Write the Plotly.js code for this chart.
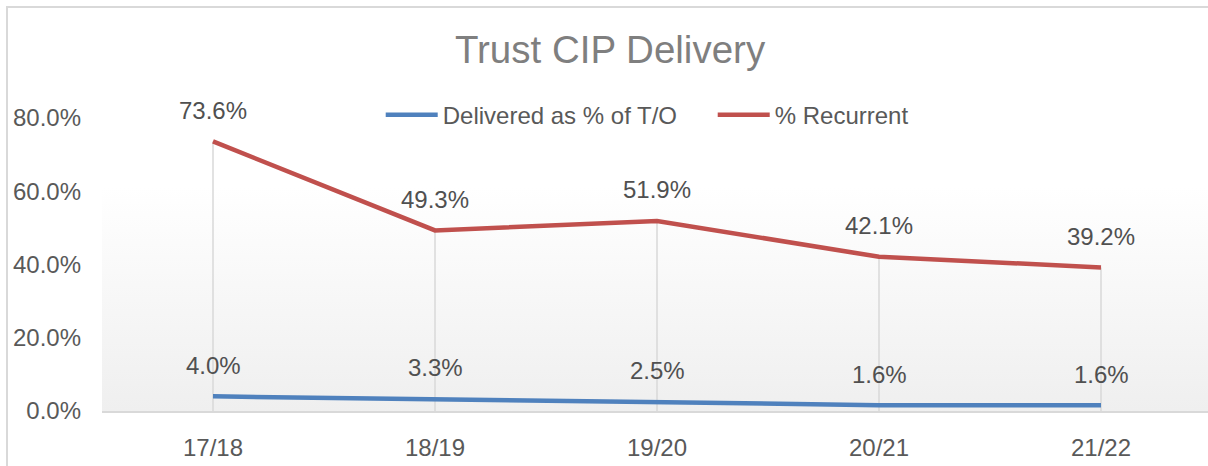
<!DOCTYPE html>
<html>
<head>
<meta charset="utf-8">
<script src="https://cdn.plot.ly/plotly-3.0.1.min.js"></script>
<style>
  html, body { margin: 0; padding: 0; background: #ffffff; overflow: hidden; }
  #frame { position: absolute; left: 6px; top: 6px; width: 1400px; height: 700px;
           border-left: 2px solid #d9d9d9; border-top: 2px solid #d9d9d9; box-sizing: border-box; }
  #chart { position: absolute; left: 0; top: 0; width: 1208px; height: 466px; }
</style>
</head>
<body>
<div id="frame"></div>
<div id="chart"></div>
<script>
// ---- data ----
const categories = ['17/18', '18/19', '19/20', '20/21', '21/22'];
const deliveredPct = [4.0, 3.3, 2.5, 1.6, 1.6];      // Delivered as % of T/O
const recurrentPct = [73.6, 49.3, 51.9, 42.1, 39.2]; // % Recurrent
const seriesNames = ['Delivered as % of T/O', '% Recurrent'];
const yTicks = [0, 20, 40, 60, 80];
const chartTitle = 'Trust CIP Delivery';

// ---- styles ----
const BLUE = '#4f81bd';
const RED = '#c0504d';
const FONT = 'Liberation Sans, Arial, sans-serif';

// drop lines from each category's highest point down to the axis
const dropX = [], dropY = [];
categories.forEach((c, i) => {
  dropX.push(c, c, null);
  dropY.push(0, Math.max(deliveredPct[i], recurrentPct[i]), null);
});

const traces = [
  { x: dropX, y: dropY, mode: 'lines', line: { color: '#d9d9d9', width: 1.5 },
    hoverinfo: 'skip', showlegend: false },
  { x: categories, y: deliveredPct, name: seriesNames[0], mode: 'lines',
    line: { color: BLUE, width: 4.5 } },
  { x: categories, y: recurrentPct, name: seriesNames[1], mode: 'lines',
    line: { color: RED, width: 4.5 } }
];

const annotations = [];
[deliveredPct, recurrentPct].forEach(series => {
  series.forEach((v, i) => {
    annotations.push({ x: categories[i], y: v, text: v.toFixed(1) + '%', showarrow: false,
      xanchor: 'center', yanchor: 'middle', yshift: 31,
      font: { family: FONT, size: 24, color: '#505050' } });
  });
});

const svg = '<svg xmlns="http://www.w3.org/2000/svg" width="100" height="100" preserveAspectRatio="none">' +
  '<defs><linearGradient id="g" x1="0" y1="0" x2="0" y2="1">' +
  '<stop offset="0" stop-color="#ffffff"/><stop offset="0.28" stop-color="#ffffff"/>' +
  '<stop offset="1" stop-color="#efefef"/></linearGradient></defs>' +
  '<rect width="100" height="100" fill="url(#g)"/></svg>';

const layout = {
  width: 1208, height: 466,
  margin: { l: 102, r: 0, t: 118, b: 54.5 },
  paper_bgcolor: 'rgba(0,0,0,0)',
  plot_bgcolor: 'rgba(0,0,0,0)',
  title: { text: chartTitle, x: 0.505, xref: 'container', xanchor: 'center', y: 0.893, yanchor: 'middle',
           font: { family: FONT, size: 38.5, color: '#7f7f7f' } },
  showlegend: true,
  legend: { orientation: 'h', x: 0.252, xanchor: 'left', y: 1.01, yanchor: 'middle',
            font: { family: FONT, size: 24, color: '#595959' },
            bgcolor: 'rgba(0,0,0,0)', itemwidth: 52, entrywidth: 265, entrywidthmode: 'pixels' },
  xaxis: { type: 'category', range: [-0.5, 4.482], showgrid: false, zeroline: false,
           showline: true, linecolor: '#d9d9d9', linewidth: 2, ticks: '',
           ticklabelstandoff: 14,
           tickfont: { family: FONT, size: 24, color: '#595959' } },
  yaxis: { range: [0, 80], tickvals: yTicks, ticktext: yTicks.map(v => v.toFixed(1) + '%'),
           showgrid: false, zeroline: false, showline: false, ticks: '',
           ticklabelstandoff: 20,
           tickfont: { family: FONT, size: 24, color: '#595959' } },
  annotations: annotations,
  images: [{ source: 'data:image/svg+xml;base64,' + btoa(svg), xref: 'paper', yref: 'paper',
             x: 0, y: 1.061, sizex: 1, sizey: 1.061, sizing: 'stretch', xanchor: 'left', yanchor: 'top',
             layer: 'below' }]
};

Plotly.newPlot('chart', traces, layout, { displayModeBar: false, staticPlot: true });
</script>
</body>
</html>
